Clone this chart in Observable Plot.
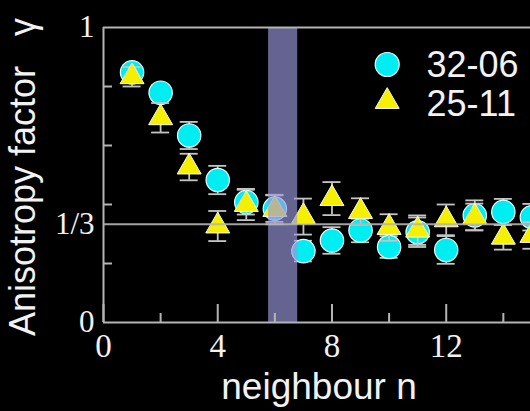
<!DOCTYPE html>
<html><head><meta charset="utf-8">
<script src="https://cdn.jsdelivr.net/npm/d3@7"></script>
<script src="https://cdn.jsdelivr.net/npm/@observablehq/plot@0.6"></script>
<style>html,body{margin:0;padding:0;background:#000;overflow:hidden}</style>
</head><body><div id="chart"></div>
<script>
// ---- data ----
const neighbours = [1,2,3,4,5,6,7,8,9,10,11,12,13,14,15];
const seriesNames = ["32-06", "25-11"];
const gamma3206 = [0.848,0.779,0.634,0.483,0.408,0.386,0.242,0.278,0.312,0.256,0.306,0.246,0.363,0.375,0.357];
const err3206   = [0.025,0.025,0.046,0.048,0.042,0.045,0.035,0.045,0.040,0.037,0.050,0.047,0.051,0.044,0.045];
const gamma2511 = [0.833,0.694,0.527,0.327,0.400,0.383,0.359,0.420,0.376,0.322,0.313,0.348,0.358,0.289,0.295];
const err2511   = [0.033,0.050,0.045,0.051,0.053,0.050,0.061,0.056,0.045,0.045,0.050,0.052,0.045,0.042,0.045];
const bandStart = [5.78];
const bandEnd   = [6.80];
const xMajorTicks = [0,4,8,12];
const xMinorTicks = [2,6,10,14];
const yMinorTicks = [0.2,0.4,0.6,0.8];
const yLabelTicks = [0, 1/3, 1];
const yLabelTexts = ["0", "1/3", "1"];
const referenceLevels = [1/3];
const xTitle = "neighbour n";
const yTitle = "Anisotropy factor\u00a0\u00a0\u00a0γ";

// ---- tables ----
const s1 = neighbours.map((n,i)=>({n, g:gamma3206[i], lo:gamma3206[i]-err3206[i], hi:gamma3206[i]+err3206[i]}));
const s2 = neighbours.map((n,i)=>({n, g:gamma2511[i], lo:gamma2511[i]-err2511[i], hi:gamma2511[i]+err2511[i]}));
const band = bandStart.map((s,i)=>({s, e:bandEnd[i]}));

const cyan = "#00eef2", yellow = "#f4f000";
const axisColor = "#b4b4b4", errColor = "#c4c4c4", textColor = "#f2f2f2";
const serif = "Liberation Serif", sans = "Liberation Sans";

function errorBars(data) {
  return [
    Plot.ruleX(data, {x:"n", y1:"lo", y2:"hi", stroke:errColor, strokeWidth:1.8}),
    Plot.ruleY(data, {y:"lo", x1:"n", x2:"n", insetLeft:-9, insetRight:-9, stroke:errColor, strokeWidth:1.8}),
    Plot.ruleY(data, {y:"hi", x1:"n", x2:"n", insetLeft:-9, insetRight:-9, stroke:errColor, strokeWidth:1.8})
  ];
}

const chart = Plot.plot({
  width: 530, height: 411,
  marginLeft: 103, marginRight: 0, marginTop: 27, marginBottom: 89,
  style: {background: "#000", color: textColor, overflow: "hidden"},
  x: {domain: [0,16], range: [103, 103 + 16*28.56]},
  y: {domain: [0,1]},
  marks: [
    ...errorBars(s1),
    Plot.dot(s1, {x:"n", y:"g", r:11.7, fill:cyan, stroke:"#e4ffff", strokeWidth:1.2}),
    ...errorBars(s2),
    Plot.dot(s2, {x:"n", y:"g", r:8.9, symbol:"triangle", fill:yellow, stroke:"#fffbe0", strokeWidth:1}),
    Plot.rect(band, {x1:"s", x2:"e", fill:"#9a98dc", fillOpacity:0.66}),
    Plot.ruleY(referenceLevels, {stroke:axisColor, strokeWidth:2, strokeOpacity:0.9}),
    Plot.ruleY([1], {stroke:axisColor, strokeWidth:2}),
    Plot.ruleY([0], {stroke:axisColor, strokeWidth:2}),
    Plot.ruleX([0], {stroke:axisColor, strokeWidth:2}),
    Plot.ruleX(xMajorTicks, {insetTop: 295-18, stroke:axisColor, strokeWidth:2}),
    Plot.ruleX(xMinorTicks, {insetTop: 295-9, stroke:axisColor, strokeWidth:2}),
    Plot.ruleY(yMinorTicks, {insetRight: 427-9, stroke:axisColor, strokeWidth:2}),
    Plot.axisX({ticks:xMajorTicks, tickSize:0, tickPadding:11, fontSize:33, fontFamily:serif, fill:textColor, label:null}),
    Plot.axisY({ticks:yLabelTicks, tickFormat:(d)=>yLabelTexts[yLabelTicks.indexOf(d)], tickSize:0, tickPadding:9, fontSize:31, fontFamily:serif, fill:textColor, label:null}),
    Plot.text([xTitle], {frameAnchor:"bottom", dx:2, dy:65, textAnchor:"middle", lineAnchor:"middle", fontSize:37, fontFamily:sans, fill:textColor}),
    Plot.text([yTitle], {frameAnchor:"left", rotate:-90, dx:-80, dy:2, textAnchor:"middle", lineAnchor:"middle", fontSize:36, fontFamily:sans, fill:textColor}),
    // legend
    Plot.dot([seriesNames[0]], {frameAnchor:"top-left", dx:283.7, dy:37, r:12, fill:cyan, stroke:"#e4ffff", strokeWidth:1.2}),
    Plot.dot([seriesNames[1]], {frameAnchor:"top-left", dx:283.7, dy:74, r:8.9, symbol:"triangle", fill:yellow, stroke:"#fffbe0", strokeWidth:1}),
    Plot.text([seriesNames[0]], {text:d=>d, frameAnchor:"top-left", dx:323, dy:38.3, textAnchor:"start", lineAnchor:"middle", fontSize:36, fontFamily:sans, fill:textColor}),
    Plot.text([seriesNames[1]], {text:d=>d, frameAnchor:"top-left", dx:323, dy:77, textAnchor:"start", lineAnchor:"middle", fontSize:36, fontFamily:sans, fill:textColor})
  ]
});
document.getElementById("chart").appendChild(chart);
</script>
</body></html>
